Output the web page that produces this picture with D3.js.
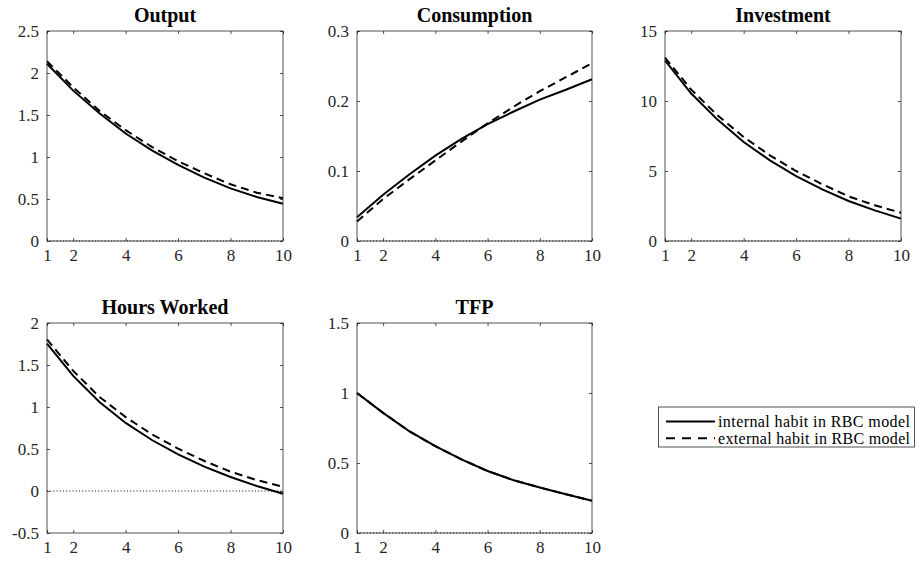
<!DOCTYPE html>
<html>
<head>
<meta charset="utf-8">
<script src="https://cdn.jsdelivr.net/npm/d3@7"></script>
<style>
  body { margin: 0; background: #fff; }
  svg { display: block; }
  svg text { font-family: "Liberation Serif", "Times New Roman", serif; }
</style>
</head>
<body>
<div id="chart"></div>
<script>
// impulse responses, periods 1..10
var periods = [1, 2, 3, 4, 5, 6, 7, 8, 9, 10];
var xTicks = [1, 2, 4, 6, 8, 10];

var outputInternal = [2.11, 1.79, 1.52, 1.28, 1.08, 0.905, 0.754, 0.627, 0.524, 0.444];
var outputExternal = [2.14, 1.83, 1.55, 1.32, 1.12, 0.95, 0.806, 0.675, 0.575, 0.51];

var consInternal = [0.034, 0.066, 0.095, 0.122, 0.146, 0.167, 0.185, 0.202, 0.216, 0.231];
var consExternal = [0.028, 0.060, 0.088, 0.115, 0.142, 0.168, 0.192, 0.214, 0.234, 0.254];

var invInternal = [12.9, 10.53, 8.67, 7.07, 5.76, 4.64, 3.69, 2.86, 2.19, 1.6];
var invExternal = [13.1, 10.81, 8.98, 7.43, 6.12, 5.0, 4.05, 3.19, 2.55, 2.02];

var hoursInternal = [1.754, 1.37, 1.06, 0.81, 0.607, 0.437, 0.29, 0.167, 0.06, -0.032];
var hoursExternal = [1.805, 1.43, 1.12, 0.88, 0.675, 0.504, 0.357, 0.23, 0.13, 0.05];

var tfpInternal = [1.0, 0.858, 0.727, 0.62, 0.526, 0.443, 0.377, 0.325, 0.277, 0.23];
var tfpExternal = [1.0, 0.858, 0.727, 0.62, 0.526, 0.443, 0.377, 0.325, 0.277, 0.23];

var titles = ["Output", "Consumption", "Investment", "Hours Worked", "TFP"];
var yDomains = [[0, 2.5], [0, 0.3], [0, 15], [-0.5, 2], [0, 1.5]];
var yTicks = [
  [0, 0.5, 1, 1.5, 2, 2.5],
  [0, 0.1, 0.2, 0.3],
  [0, 5, 10, 15],
  [-0.5, 0, 0.5, 1, 1.5, 2],
  [0, 0.5, 1, 1.5]
];
var internalSeries = [outputInternal, consInternal, invInternal, hoursInternal, tfpInternal];
var externalSeries = [outputExternal, consExternal, invExternal, hoursExternal, tfpExternal];
var legendLabels = ["internal habit in RBC model", "external habit in RBC model"];

var width = 917, height = 564;
var axisColor = "#262626";
var serif = "Liberation Serif, Times New Roman, serif";
var dash = "8,5";

// panel boxes
var cols = [[47, 283], [357, 592], [665, 901]];
var rows = [[31, 241], [323, 533]];

var svg = d3.select("#chart").append("svg")
  .attr("width", width)
  .attr("height", height)
  .attr("font-family", serif);

titles.forEach(function(title, i) {
  var c = cols[i % 3], r = rows[Math.floor(i / 3)];
  var x = d3.scaleLinear().domain([1, 10]).range(c);
  var y = d3.scaleLinear().domain(yDomains[i]).range([r[1], r[0]]);
  var g = svg.append("g");

  // zero line
  g.append("line")
    .attr("x1", x(1)).attr("x2", x(10))
    .attr("y1", y(0)).attr("y2", y(0))
    .attr("stroke", "#000")
    .attr("stroke-width", 1)
    .attr("stroke-dasharray", "1,2.2");

  var line = d3.line()
    .x(function(d, k) { return x(periods[k]); })
    .y(function(d) { return y(d); });

  g.append("path")
    .attr("d", line(externalSeries[i]))
    .attr("fill", "none")
    .attr("stroke", "#000")
    .attr("stroke-width", 2)
    .attr("stroke-dasharray", dash);

  g.append("path")
    .attr("d", line(internalSeries[i]))
    .attr("fill", "none")
    .attr("stroke", "#000")
    .attr("stroke-width", 2);

  // axes, ticks pointing inward
  var fmt = function(d) { return String(d); };
  var bottom = g.append("g")
    .attr("transform", "translate(0," + r[1] + ")")
    .call(d3.axisBottom(x).tickValues(xTicks).tickSize(-3).tickPadding(7).tickFormat(fmt));
  g.append("g")
    .attr("transform", "translate(0," + r[0] + ")")
    .call(d3.axisTop(x).tickValues(xTicks).tickSize(-3).tickFormat(""));
  g.append("g")
    .attr("transform", "translate(" + c[0] + ",0)")
    .call(d3.axisLeft(y).tickValues(yTicks[i]).tickSize(-3).tickPadding(8).tickFormat(fmt));
  g.append("g")
    .attr("transform", "translate(" + c[1] + ",0)")
    .call(d3.axisRight(y).tickValues(yTicks[i]).tickSize(-3).tickFormat(""));

  g.selectAll(".domain").remove();
  g.selectAll("g").attr("font-family", serif).attr("font-size", 17);
  g.selectAll(".tick line").attr("stroke", axisColor).attr("stroke-width", 0.8);
  g.selectAll(".tick text").attr("fill", axisColor);
  bottom.selectAll(".tick text").attr("dy", "0.75em");

  g.append("rect")
    .attr("x", c[0]).attr("y", r[0])
    .attr("width", c[1] - c[0]).attr("height", r[1] - r[0])
    .attr("fill", "none")
    .attr("stroke", axisColor)
    .attr("stroke-width", 0.8);

  g.append("text")
    .attr("x", (c[0] + c[1]) / 2)
    .attr("y", r[0] - 9)
    .attr("text-anchor", "middle")
    .attr("font-weight", "bold")
    .attr("font-size", 20)
    .attr("fill", "#000")
    .text(title);
});

// legend
var lg = svg.append("g");
lg.append("rect")
  .attr("x", 658.5).attr("y", 407)
  .attr("width", 256).attr("height", 40)
  .attr("fill", "#fff")
  .attr("stroke", axisColor)
  .attr("stroke-width", 0.8);

legendLabels.forEach(function(label, k) {
  var ly = 421.5 + k * 16.7;
  lg.append("line")
    .attr("x1", 666).attr("x2", 715)
    .attr("y1", ly).attr("y2", ly)
    .attr("stroke", "#000")
    .attr("stroke-width", 2)
    .attr("stroke-dasharray", k === 0 ? null : "9,7");
  lg.append("text")
    .attr("x", 718)
    .attr("y", ly)
    .attr("dy", "0.35em")
    .attr("font-size", 16)
    .attr("textLength", 192)
    .attr("lengthAdjust", "spacing")
    .attr("fill", "#000")
    .text(label);
});
</script>
</body>
</html>
